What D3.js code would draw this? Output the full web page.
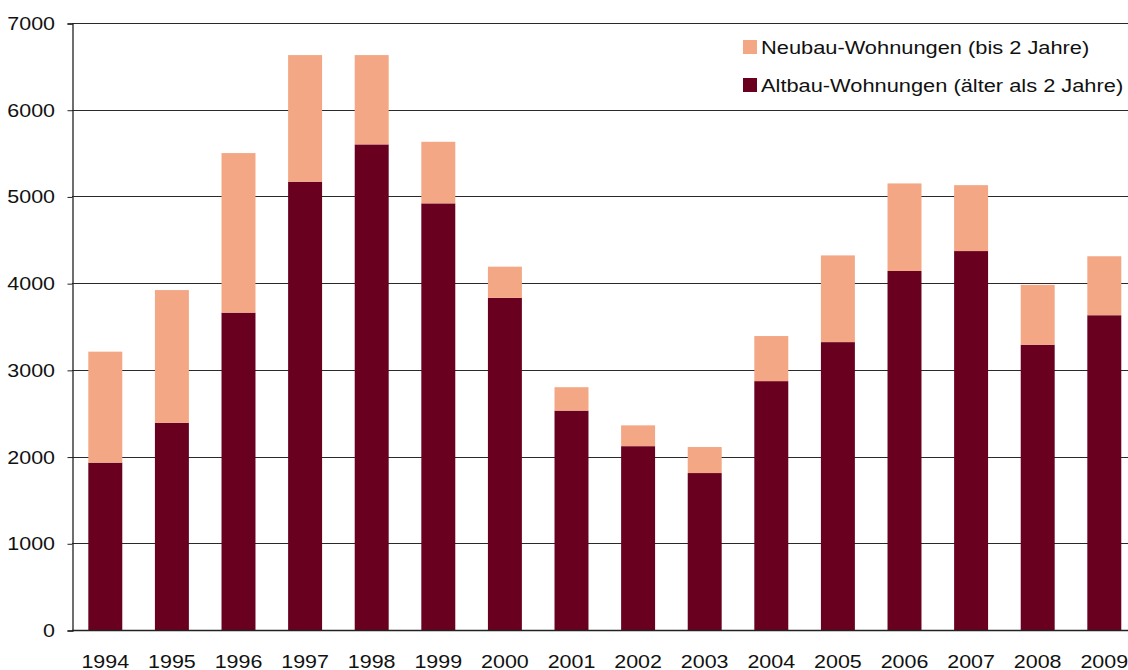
<!DOCTYPE html>
<html><head><meta charset="utf-8">
<script src="https://cdn.jsdelivr.net/npm/d3@7"></script>
<style>body{margin:0;background:#fff;}svg{display:block;font-family:"Liberation Sans",Arial,sans-serif;}</style>
</head><body><svg id="c" width="1128" height="670"></svg>
<script>
const years = ["1994","1995","1996","1997","1998","1999","2000","2001","2002","2003","2004","2005","2006","2007","2008","2009"];
const altbau = [1930,2390,3660,5170,5600,4920,3830,2530,2120,1810,2870,3320,4140,4370,3290,3630];
const neubau = [1280,1530,1840,1460,1030,710,360,270,240,300,520,1000,1010,760,690,680];
const seriesNames = ["Neubau-Wohnungen (bis 2 Jahre)","Altbau-Wohnungen (älter als 2 Jahre)"];
const yTicks = [0,1000,2000,3000,4000,5000,6000,7000];
const colors = {alt:"#690020", neu:"#F3A784"};

const svg = d3.select("#c");
const mLeft = 72, mTop = 23, mBottom = 630, step = 66.6, sx = 1.16, sxLeg = 1.18, fs = 18.5;
const x = d3.scaleBand().domain(years).range([mLeft, mLeft + step*years.length]).paddingInner(0.49).paddingOuter(0.245);
const y = d3.scaleLinear().domain([0,7000]).range([mBottom, mTop]);

// gridlines
svg.append("g").selectAll("line").data(yTicks.filter(d=>d>0)).join("line")
  .attr("x1", mLeft).attr("x2", 1128)
  .attr("y1", d=>Math.round(y(d))+0.5).attr("y2", d=>Math.round(y(d))+0.5)
  .attr("stroke","#2a2a2a").attr("stroke-width",1);

const data = years.map((yr,i)=>({year:yr, alt:altbau[i], neu:neubau[i]}));
const stack = d3.stack().keys(["alt","neu"])(data);
svg.append("g").selectAll("g").data(stack).join("g")
  .attr("fill", d=>colors[d.key])
  .selectAll("rect").data(d=>d).join("rect")
  .attr("x", d=>x(d.data.year)).attr("width", x.bandwidth())
  .attr("y", d=>y(d[1])).attr("height", d=>y(d[0])-y(d[1]));

// y axis
const yAxis = d3.axisLeft(y).tickValues(yTicks).tickSize(5).tickPadding(12).tickFormat(d3.format("d"));
const ga = svg.append("g").attr("transform",`translate(${mLeft+0.5},0.5)`).call(yAxis);
ga.select(".domain").attr("stroke","#222").attr("stroke-width",1.3);
ga.selectAll(".tick line").attr("stroke","#222");
ga.selectAll("text").attr("font-size",fs).attr("fill","#111").attr("font-family","Liberation Sans, Arial, sans-serif")
  .attr("x", -17.5/sx).attr("transform",`scale(${sx},1)`);

// x axis
const xAxis = d3.axisBottom(x).tickSize(0).tickPadding(24);
const gx = svg.append("g").attr("transform",`translate(0,${mBottom+0.5})`).call(xAxis);
gx.select(".domain").attr("stroke","#222").attr("stroke-width",1.3).attr("d",`M${mLeft},0H1128`);
gx.selectAll("text").attr("font-size",fs).attr("fill","#111").attr("font-family","Liberation Sans, Arial, sans-serif")
  .attr("transform",`scale(${sx},1)`);

// legend
const leg = svg.append("g");
const legItems = [{name:seriesNames[0], c:colors.neu, yy:47},{name:seriesNames[1], c:colors.alt, yy:85}];
legItems.forEach(it=>{
  leg.append("rect").attr("x",743).attr("y",it.yy-7).attr("width",14).attr("height",14).attr("fill",it.c);
  leg.append("text").attr("transform",`translate(761,${it.yy+6.5}) scale(${sxLeg},1)`)
    .attr("font-size",fs).attr("fill","#111").text(it.name);
});
</script></body></html>
